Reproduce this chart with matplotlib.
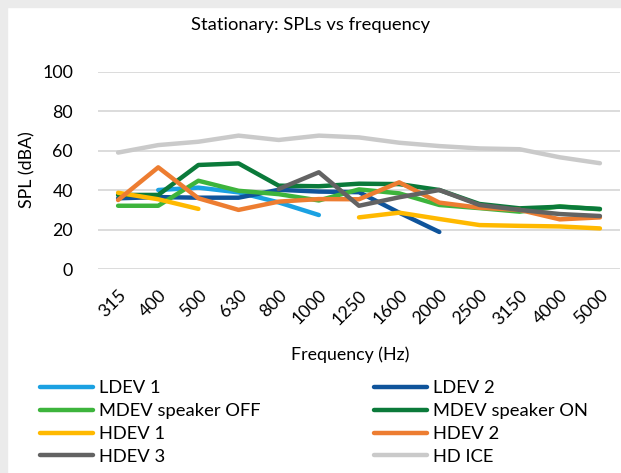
import matplotlib
matplotlib.use("Agg")
import matplotlib.pyplot as plt
import numpy as np
from matplotlib.patches import Rectangle

plt.rcParams['font.family'] = ['Lato', 'DejaVu Sans']

freqs = ["315", "400", "500", "630", "800", "1000", "1250", "1600", "2000", "2500", "3150", "4000", "5000"]
nan = np.nan
ldev1 = [nan, 40.1, 41.3, 38.9, 33.8, 27.4, nan, nan, nan, nan, nan, nan, nan]
ldev2 = [35.9, 36.5, 36.2, 36.2, 40.2, 39.3, 39.0, 28.6, 18.8, nan, nan, nan, nan]
mdev_off = [32.1, 32.1, 44.8, 39.7, 38.0, 34.8, 40.4, 38.4, 32.5, 30.9, 29.1, 31.8, 30.3]
mdev_on = [37.6, 37.6, 52.8, 53.6, 42.3, 42.0, 43.3, 43.1, 40.1, 33.0, 30.8, 31.6, 30.5]
hdev1 = [38.7, 35.4, 30.5, nan, nan, nan, 26.2, 28.6, 25.4, 22.3, 21.9, 21.6, 20.6]
hdev2 = [35.0, 51.6, 35.9, 30.0, 34.2, 35.5, 35.4, 44.0, 33.7, 31.1, 30.0, 25.2, 26.2]
hdev3 = [nan, nan, nan, nan, 40.6, 49.1, 32.1, 36.4, 40.1, 32.5, 30.0, 27.9, 26.9]
hd_ice = [59.1, 62.9, 64.6, 67.7, 65.5, 67.7, 66.8, 64.1, 62.4, 61.2, 60.8, 56.7, 53.7]

series = [
    ("LDEV 1", ldev1, "#1BA1E2"),
    ("LDEV 2", ldev2, "#0F549B"),
    ("MDEV speaker OFF", mdev_off, "#3DB43C"),
    ("MDEV speaker ON", mdev_on, "#0B7A3A"),
    ("HDEV 1", hdev1, "#FFB900"),
    ("HDEV 2", hdev2, "#ED7D31"),
    ("HDEV 3", hdev3, "#636363"),
    ("HD ICE", hd_ice, "#CACACA"),
]

W, H = 621, 473
fig = plt.figure(figsize=(W / 100, H / 100), dpi=100)
fig.patch.set_facecolor("white")
# subtle shadow border at top/left
fig.patches.append(Rectangle((0, 0), 7 / W, 1, transform=fig.transFigure, color="#EBEBEB", zorder=0))
fig.patches.append(Rectangle((0, 1 - 7 / H), 1, 7 / H, transform=fig.transFigure, color="#EBEBEB", zorder=0))

left, right = 98 / W, 620 / W
bottom, top = 1 - 269 / H, 1 - 72 / H
ax = fig.add_axes([left, bottom, right - left, top - bottom])
x = np.arange(len(freqs))
handles = {}
for name, vals, col in series:
    (ln,) = ax.plot(x, vals, color=col, lw=3.2, solid_capstyle="round", solid_joinstyle="round", label=name, clip_on=False)
    handles[name] = ln

ax.set_xlim(-0.5, len(freqs) - 0.5)
ax.set_ylim(0, 100)
ax.set_yticks([0, 20, 40, 60, 80, 100])
ax.yaxis.grid(True, color="#D9D9D9", lw=1.3)
ax.set_axisbelow(True)
for s in ax.spines.values():
    s.set_visible(False)
ax.tick_params(axis="both", length=0, labelsize=12.8, colors="black")
ax.tick_params(axis="y", pad=18)
ax.set_xticks(x)
ax.set_xticklabels(freqs, rotation=45, ha="right", rotation_mode="anchor")
ax.tick_params(axis="x", pad=13)

fig.text(311 / W, 1 - 25 / H, "Stationary: SPLs vs frequency", ha="center", va="center", fontsize=13.2)
fig.text(27 / W, 1 - 170 / H, "SPL (dBA)", ha="center", va="center", rotation=90, fontsize=12.8)
fig.text(350 / W, 1 - 355 / H, "Frequency (Hz)", ha="center", va="center", fontsize=12.8)

col1 = ["LDEV 1", "MDEV speaker OFF", "HDEV 1", "HDEV 3"]
col2 = ["LDEV 2", "MDEV speaker ON", "HDEV 2", "HD ICE"]
common = dict(loc="upper left", frameon=False, fontsize=13.2, handlelength=2.9, handletextpad=0.3,
              labelspacing=0.38, borderpad=0, borderaxespad=0)
leg1 = fig.legend([handles[n] for n in col1], col1, bbox_to_anchor=(40 / W, 1 - 380 / H), **common)
leg2 = fig.legend([handles[n] for n in col2], col2, bbox_to_anchor=(374 / W, 1 - 380 / H), **common)

fig.savefig("out.png", dpi=100)
